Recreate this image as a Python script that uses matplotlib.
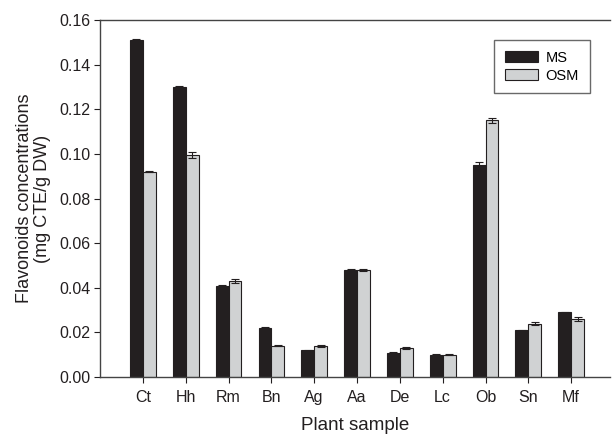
import numpy as np
import matplotlib
matplotlib.use("Agg")
import matplotlib.pyplot as plt

plt.rcParams['font.family'] = ['Liberation Sans', 'DejaVu Sans']

# proben und werte
samples = ['Ct', 'Hh', 'Rm', 'Bn', 'Ag', 'Aa', 'De', 'Lc', 'Ob', 'Sn', 'Mf']
ms_values = [0.151, 0.130, 0.041, 0.022, 0.012, 0.048, 0.011, 0.010, 0.095, 0.021, 0.029]
ms_err = [0.0003, 0.0003, 0.0003, 0.0004, 0.0002, 0.0003, 0.0002, 0.0002, 0.0015, 0.0002, 0.0002]
osm_values = [0.092, 0.0995, 0.043, 0.014, 0.014, 0.048, 0.013, 0.010, 0.115, 0.024, 0.026]
osm_err = [0.0003, 0.0013, 0.0008, 0.0002, 0.0003, 0.0003, 0.0003, 0.0003, 0.0013, 0.0008, 0.0008]

x = np.arange(len(samples))
w = 0.3

fig = plt.figure(figsize=(6.14, 4.34), dpi=100)
ax = fig.add_axes([0.163, 0.131, 0.830, 0.823])

ax.bar(x - w / 2, ms_values, w, yerr=ms_err, color='#231f20', edgecolor='#231f20',
       linewidth=0.8, error_kw=dict(ecolor='#231f20', capsize=3, elinewidth=0.8, capthick=0.8),
       label='MS')
ax.bar(x + w / 2, osm_values, w, yerr=osm_err, color='#d0d2d3', edgecolor='#231f20',
       linewidth=0.8, error_kw=dict(ecolor='#231f20', capsize=3, elinewidth=0.8, capthick=0.8),
       label='OSM')

ax.set_xlim(-1, 10.9)
ax.set_ylim(0, 0.16)
ax.set_yticks(np.arange(0, 0.161, 0.02))
ax.set_yticklabels(['%.2f' % v for v in np.arange(0, 0.161, 0.02)])
ax.set_xticks(x)
ax.set_xticklabels(samples)
ax.tick_params(direction='out', length=4, labelsize=11.5, colors='#231f20', pad=3)
ax.tick_params(axis='x', pad=5)

ax.spines['right'].set_visible(False)
for s in ['left', 'bottom', 'top']:
    ax.spines[s].set_color('#444444')
    ax.spines[s].set_linewidth(1.0)

ax.set_xlabel('Plant sample', fontsize=13.5, labelpad=9, color='#231f20')
ax.set_ylabel('Flavonoids concentrations\n(mg CTE/g DW)', fontsize=13, labelpad=6,
              color='#231f20', multialignment='center', linespacing=1.05)

leg = ax.legend(loc='upper right', bbox_to_anchor=(0.961, 0.944), borderaxespad=0,
                fontsize=10.5, fancybox=False, handlelength=2.3, handleheight=0.75,
                handletextpad=0.5, borderpad=0.75, labelspacing=0.25)
leg.get_frame().set_edgecolor('#444444')
leg.get_frame().set_linewidth(1.0)

plt.savefig('out.png', dpi=100)
